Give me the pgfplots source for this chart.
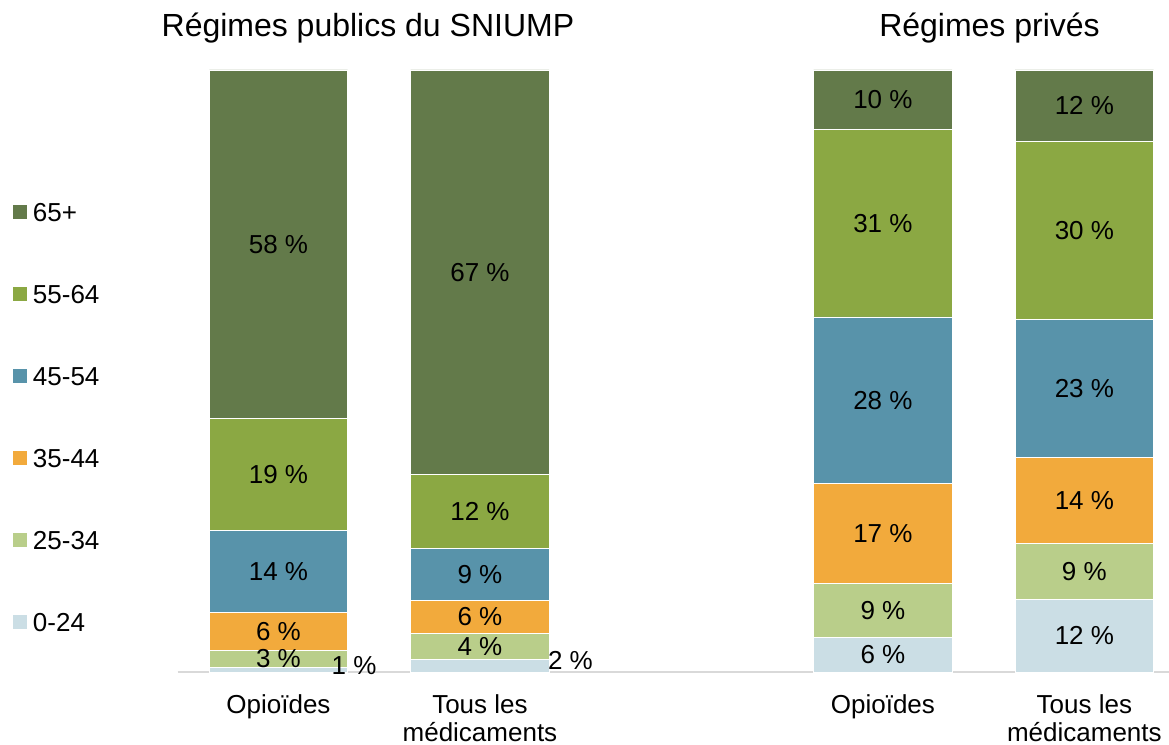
\documentclass[border=0pt]{standalone}
\usepackage{fontspec}
\setmainfont{Liberation Sans}
\usepackage{pgfplots}
\pgfplotsset{compat=1.18}
\usetikzlibrary{calc}
\definecolor{c65}{HTML}{637A4A}
\definecolor{c55}{HTML}{8BA843}
\definecolor{c45}{HTML}{5893AA}
\definecolor{c35}{HTML}{F2AA3C}
\definecolor{c25}{HTML}{B9CE8A}
\definecolor{c00}{HTML}{CBDEE5}
\newcommand\lab{\fontsize{13}{14}\selectfont}
\newcommand\ttl{\fontsize{16}{18}\selectfont}
\pgfplotsset{common/.style={
  width=495.7pt, height=301.25pt, scale only axis,
  xmin=-0.5, xmax=4.42, ymin=0, ymax=100,
  at={(0,0)}, anchor=south west}}
\begin{document}
\begin{tikzpicture}
\begin{axis}[common, name=ax,
  ybar stacked, bar width=0.687,
  axis x line*=bottom, axis y line=none,
  x axis line style={draw=gray!30, line width=1pt, -},
  xtick={0,1,3,4},
  xticklabels={Opioïdes,{Tous les\\médicaments},Opioïdes,{Tous les\\médicaments}},
  xticklabel style={font=\lab, align=center, yshift=-7.5pt},
  major tick length=0pt,
  ytick=\empty,
  reverse legend,
  legend style={draw=none, fill=none, inner sep=0pt, outer sep=0pt,
    at={(rel axis cs:0,1)}, anchor=north west, xshift=-82.4pt, yshift=-66.15pt,
    row sep=28.5pt, column sep=3pt,
    nodes={inner sep=0pt, font=\lab, text height=9.5pt, text depth=3pt, anchor=base west}},
  legend cell align=left,
  every axis plot/.append style={draw=white, line width=0.4pt},
  every axis plot post/.append style={legend image code/.code={\fill[##1, draw=none] (0pt,1.15pt) rectangle (7pt,8.15pt);}}
]
\addplot[fill=c00] coordinates {(0,0.8) (1,2.1) (3,5.8) (4,12.1)};
\addplot[fill=c25] coordinates {(0,2.9) (1,4.3) (3,9.0) (4,9.3)};
\addplot[fill=c35] coordinates {(0,6.3) (1,5.6) (3,16.6) (4,14.3)};
\addplot[fill=c45] coordinates {(0,13.6) (1,8.6) (3,27.6) (4,22.9)};
\addplot[fill=c55] coordinates {(0,18.6) (1,12.3) (3,31.1) (4,29.6)};
\addplot[fill=c65] coordinates {(0,57.8) (1,67.1) (3,9.9) (4,11.8)};
\legend{0-24,25-34,35-44,45-54,55-64,65+}
\end{axis}
\begin{axis}[common, hide axis, clip=false]
\addplot[only marks, mark=none, nodes near coords, point meta=explicit symbolic,
  every node near coord/.style={font=\lab, anchor=center, inner sep=0pt}]
  table[col sep=comma, x=x, y=y, meta=label] {
x,y,label
0,2.25,3 \%
0,6.85,6 \%
0,16.8,14 \%
0,32.9,19 \%
0,71.1,58 \%
0.375,1.2,1 \%
1,4.25,4 \%
1,9.2,6 \%
1,16.3,9 \%
1,26.75,12 \%
1,66.45,67 \%
1.449,2.0,2 \%
3,2.9,6 \%
3,10.3,9 \%
3,23.1,17 \%
3,45.2,28 \%
3,74.55,31 \%
3,95.05,10 \%
4,6.05,12 \%
4,16.75,9 \%
4,28.55,14 \%
4,47.15,23 \%
4,73.4,30 \%
4,94.1,12 \%
};
\node[font=\ttl, anchor=base] at (axis cs:0.444,100) [yshift=16.5pt] {Régimes publics du SNIUMP};
\node[font=\ttl, anchor=base] at (axis cs:3.529,100) [yshift=16.5pt] {Régimes privés};
\end{axis}
\pgfresetboundingbox
\path[use as bounding box] ($(ax.south west)+(-88.875pt,-36.25pt)$) rectangle ($(ax.north east)+(0pt,35pt)$);
\end{tikzpicture}
\end{document}
